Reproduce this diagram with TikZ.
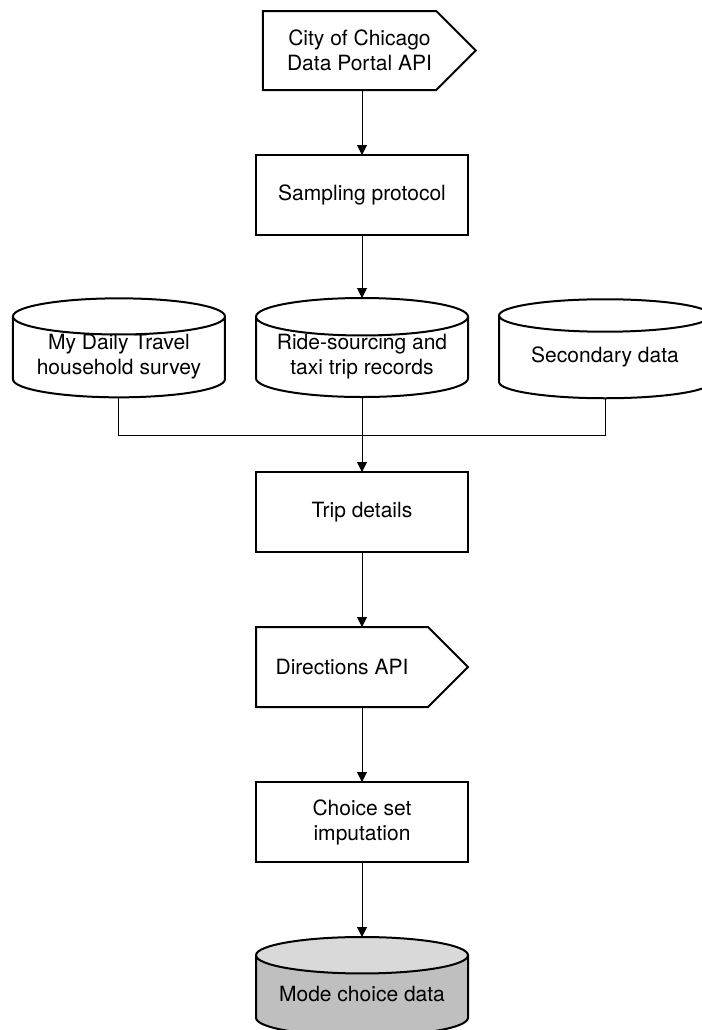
\documentclass[tikz,border=0pt]{standalone}
\usepackage{fontspec}
\setmainfont{TeX Gyre Heros}
\usetikzlibrary{positioning}
\usetikzlibrary{arrows.meta}
\usetikzlibrary{calc}
\usetikzlibrary{shapes.geometric}
\usetikzlibrary{shapes.symbols}

\begin{document}
\begin{tikzpicture}[
    font=\fontsize{10.5}{12.5}\selectfont,
    block/.style={align=center, rectangle, draw=black, fill=white, line width=1pt,
        inner sep=0pt, outer sep=0pt, minimum width=106pt, minimum height=40pt},
    source/.style={align=center, signal, signal to=east, signal pointer angle=90,
        draw=black, fill=white, line width=1pt, inner sep=0pt, outer sep=0pt,
        minimum width=106.5pt, minimum height=39.5pt},
    store/.style={align=center, cylinder, shape border rotate=90, aspect=0.22,
        draw=black, fill=white, line width=1pt, inner sep=0pt, outer sep=0pt,
        text height=7.5pt, text depth=2.5pt,
        minimum width=106pt, minimum height=49.5pt},
    twoline/.style={text height=17.5pt, text depth=0pt},
    flow/.style={-{Triangle[length=5pt, width=5pt]}, line width=0.5pt}
]
    \useasboundingbox (0,0) rectangle (351pt,-515pt);

    % Data source and sampling
    \node[source] (portal) at (174.75pt,-25.25pt)
        {\hspace*{10pt}City of Chicago\\\hspace*{10pt}Data Portal API};
    \node[block] (sampling) at (181pt,-97.5pt) {Sampling protocol};

    % Data stores
    \node[store, twoline] (rides) [below=31.5pt of sampling] {Ride-sourcing and\\taxi trip records};
    \node[store, twoline] (survey) [left=15.5pt of rides] {My Daily Travel\\household survey};
    \node[store] (secondary) [right=15.5pt of rides] {Secondary data};

    % Processing chain
    \node[block] (trip) [below=37.5pt of rides] {Trip details};
    \node[source, minimum width=106pt, minimum height=40pt, xshift=-10pt] (directions)
        [below=37.5pt of trip] {Directions API};
    \node[block] (choice) [below=37.5pt of directions.south -| trip.south] {Choice set\\imputation};
    \node[store, fill=none, cylinder uses custom fill, cylinder body fill=black!25,
        cylinder end fill=black!15] (mode) [below=37.5pt of choice] {Mode choice data};

    % Connections
    \coordinate (join) at ($(rides.south)+(0,-19pt)$);
    \draw[flow] (portal.south -| sampling.north) -- (sampling.north);
    \draw[flow] (sampling.south) -- (rides.north);
    \draw[line width=0.5pt] (survey.south) |- (join);
    \draw[line width=0.5pt] (secondary.south) |- (join);
    \draw[flow] (rides.south) -- (trip.north);
    \draw[flow] (trip.south) -- (trip.south |- directions.north);
    \draw[flow] (trip.south |- directions.south) -- (choice.north);
    \draw[flow] (choice.south) -- (mode.north);
\end{tikzpicture}
\end{document}
